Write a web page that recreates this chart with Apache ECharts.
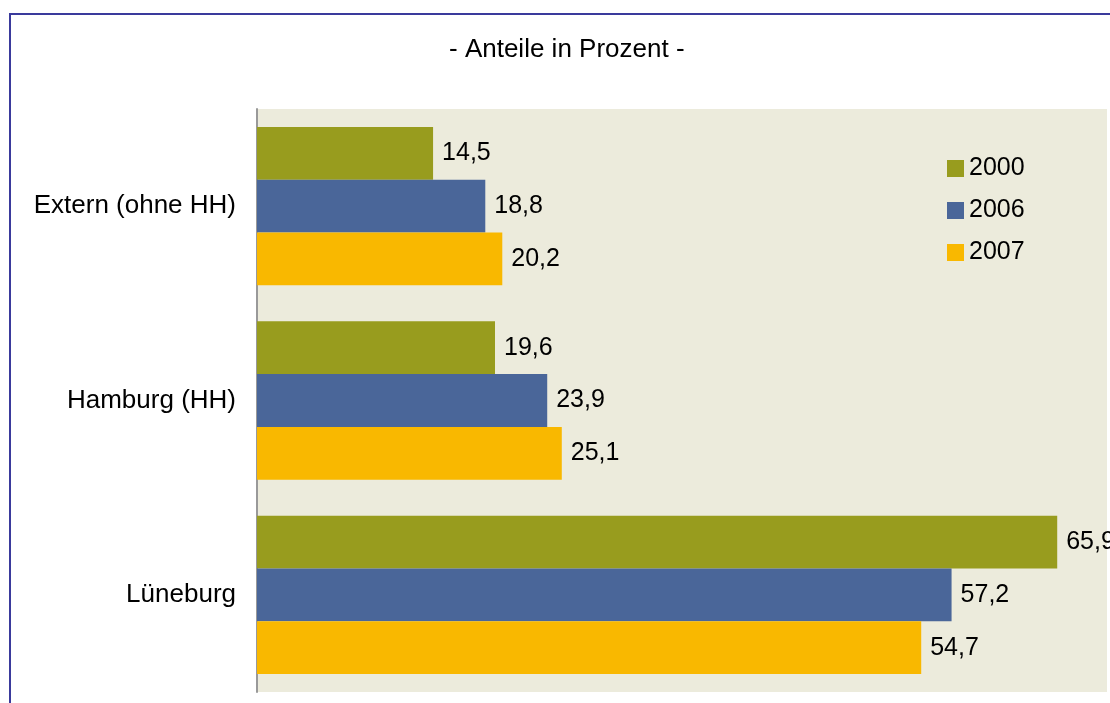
<!DOCTYPE html>
<html>
<head>
    <meta charset="utf-8">
    <title>Anteile in Prozent</title>
    <script src="https://cdn.jsdelivr.net/npm/echarts@6/dist/echarts.min.js"></script>
    <style>
        html, body { margin: 0; padding: 0; background: #ffffff; }
        #chart { width: 1110px; height: 703px; }
    </style>
</head>
<body>
<div id="chart"></div>
<script>
    // Werte
    var categories = ['Extern (ohne HH)', 'Hamburg (HH)', 'Lüneburg'];
    var years = ['2000', '2006', '2007'];
    var values2000 = [14.5, 19.6, 65.9];
    var values2006 = [18.8, 23.9, 57.2];
    var values2007 = [20.2, 25.1, 54.7];
    var colors = ['#989c1e', '#4a6699', '#f9b800'];

    var font = 'Liberation Sans, Arial, sans-serif';

    function makeSeries(name, data, color) {
        return {
            name: name,
            type: 'bar',
            data: data,
            barGap: '0%',
            barCategoryGap: '18.5%',
            itemStyle: { color: color },
            label: {
                show: true,
                position: 'right',
                distance: 9,
                color: '#000',
                fontFamily: font,
                fontSize: 25,
                formatter: function (p) {
                    return String(p.value).replace('.', ',');
                }
            }
        };
    }

    var chart = echarts.init(document.getElementById('chart'));
    var option = {
        animation: false,
        title: {
            text: '- Anteile in Prozent -',
            left: 444,
            top: 32,
            textStyle: {
                color: '#000',
                fontFamily: font,
                fontSize: 26,
                fontWeight: 'normal'
            }
        },
        graphic: [{
            type: 'rect',
            z: 100,
            shape: { x: 10, y: 14, width: 2000, height: 2000 },
            style: { fill: 'none', stroke: '#3a3a9c', lineWidth: 2 }
        }],
        legend: {
            orient: 'vertical',
            left: 942,
            top: 151,
            itemWidth: 17,
            itemHeight: 17,
            itemGap: 17,
            icon: 'rect',
            data: years,
            textStyle: {
                color: '#000',
                fontFamily: font,
                fontSize: 25
            }
        },
        grid: {
            left: 257,
            right: 3,
            top: 109,
            bottom: 11,
            show: true,
            backgroundColor: '#ecebdc',
            borderWidth: 0
        },
        xAxis: {
            type: 'value',
            min: 0,
            max: 70,
            show: false
        },
        yAxis: {
            type: 'category',
            inverse: true,
            data: categories,
            axisLine: { show: true, lineStyle: { color: '#999999', width: 2 } },
            axisTick: { show: false },
            axisLabel: {
                margin: 21,
                color: '#000',
                fontFamily: font,
                fontSize: 26
            }
        },
        series: [
            makeSeries(years[0], values2000, colors[0]),
            makeSeries(years[1], values2006, colors[1]),
            makeSeries(years[2], values2007, colors[2])
        ]
    };
    chart.setOption(option);
</script>
</body>
</html>
